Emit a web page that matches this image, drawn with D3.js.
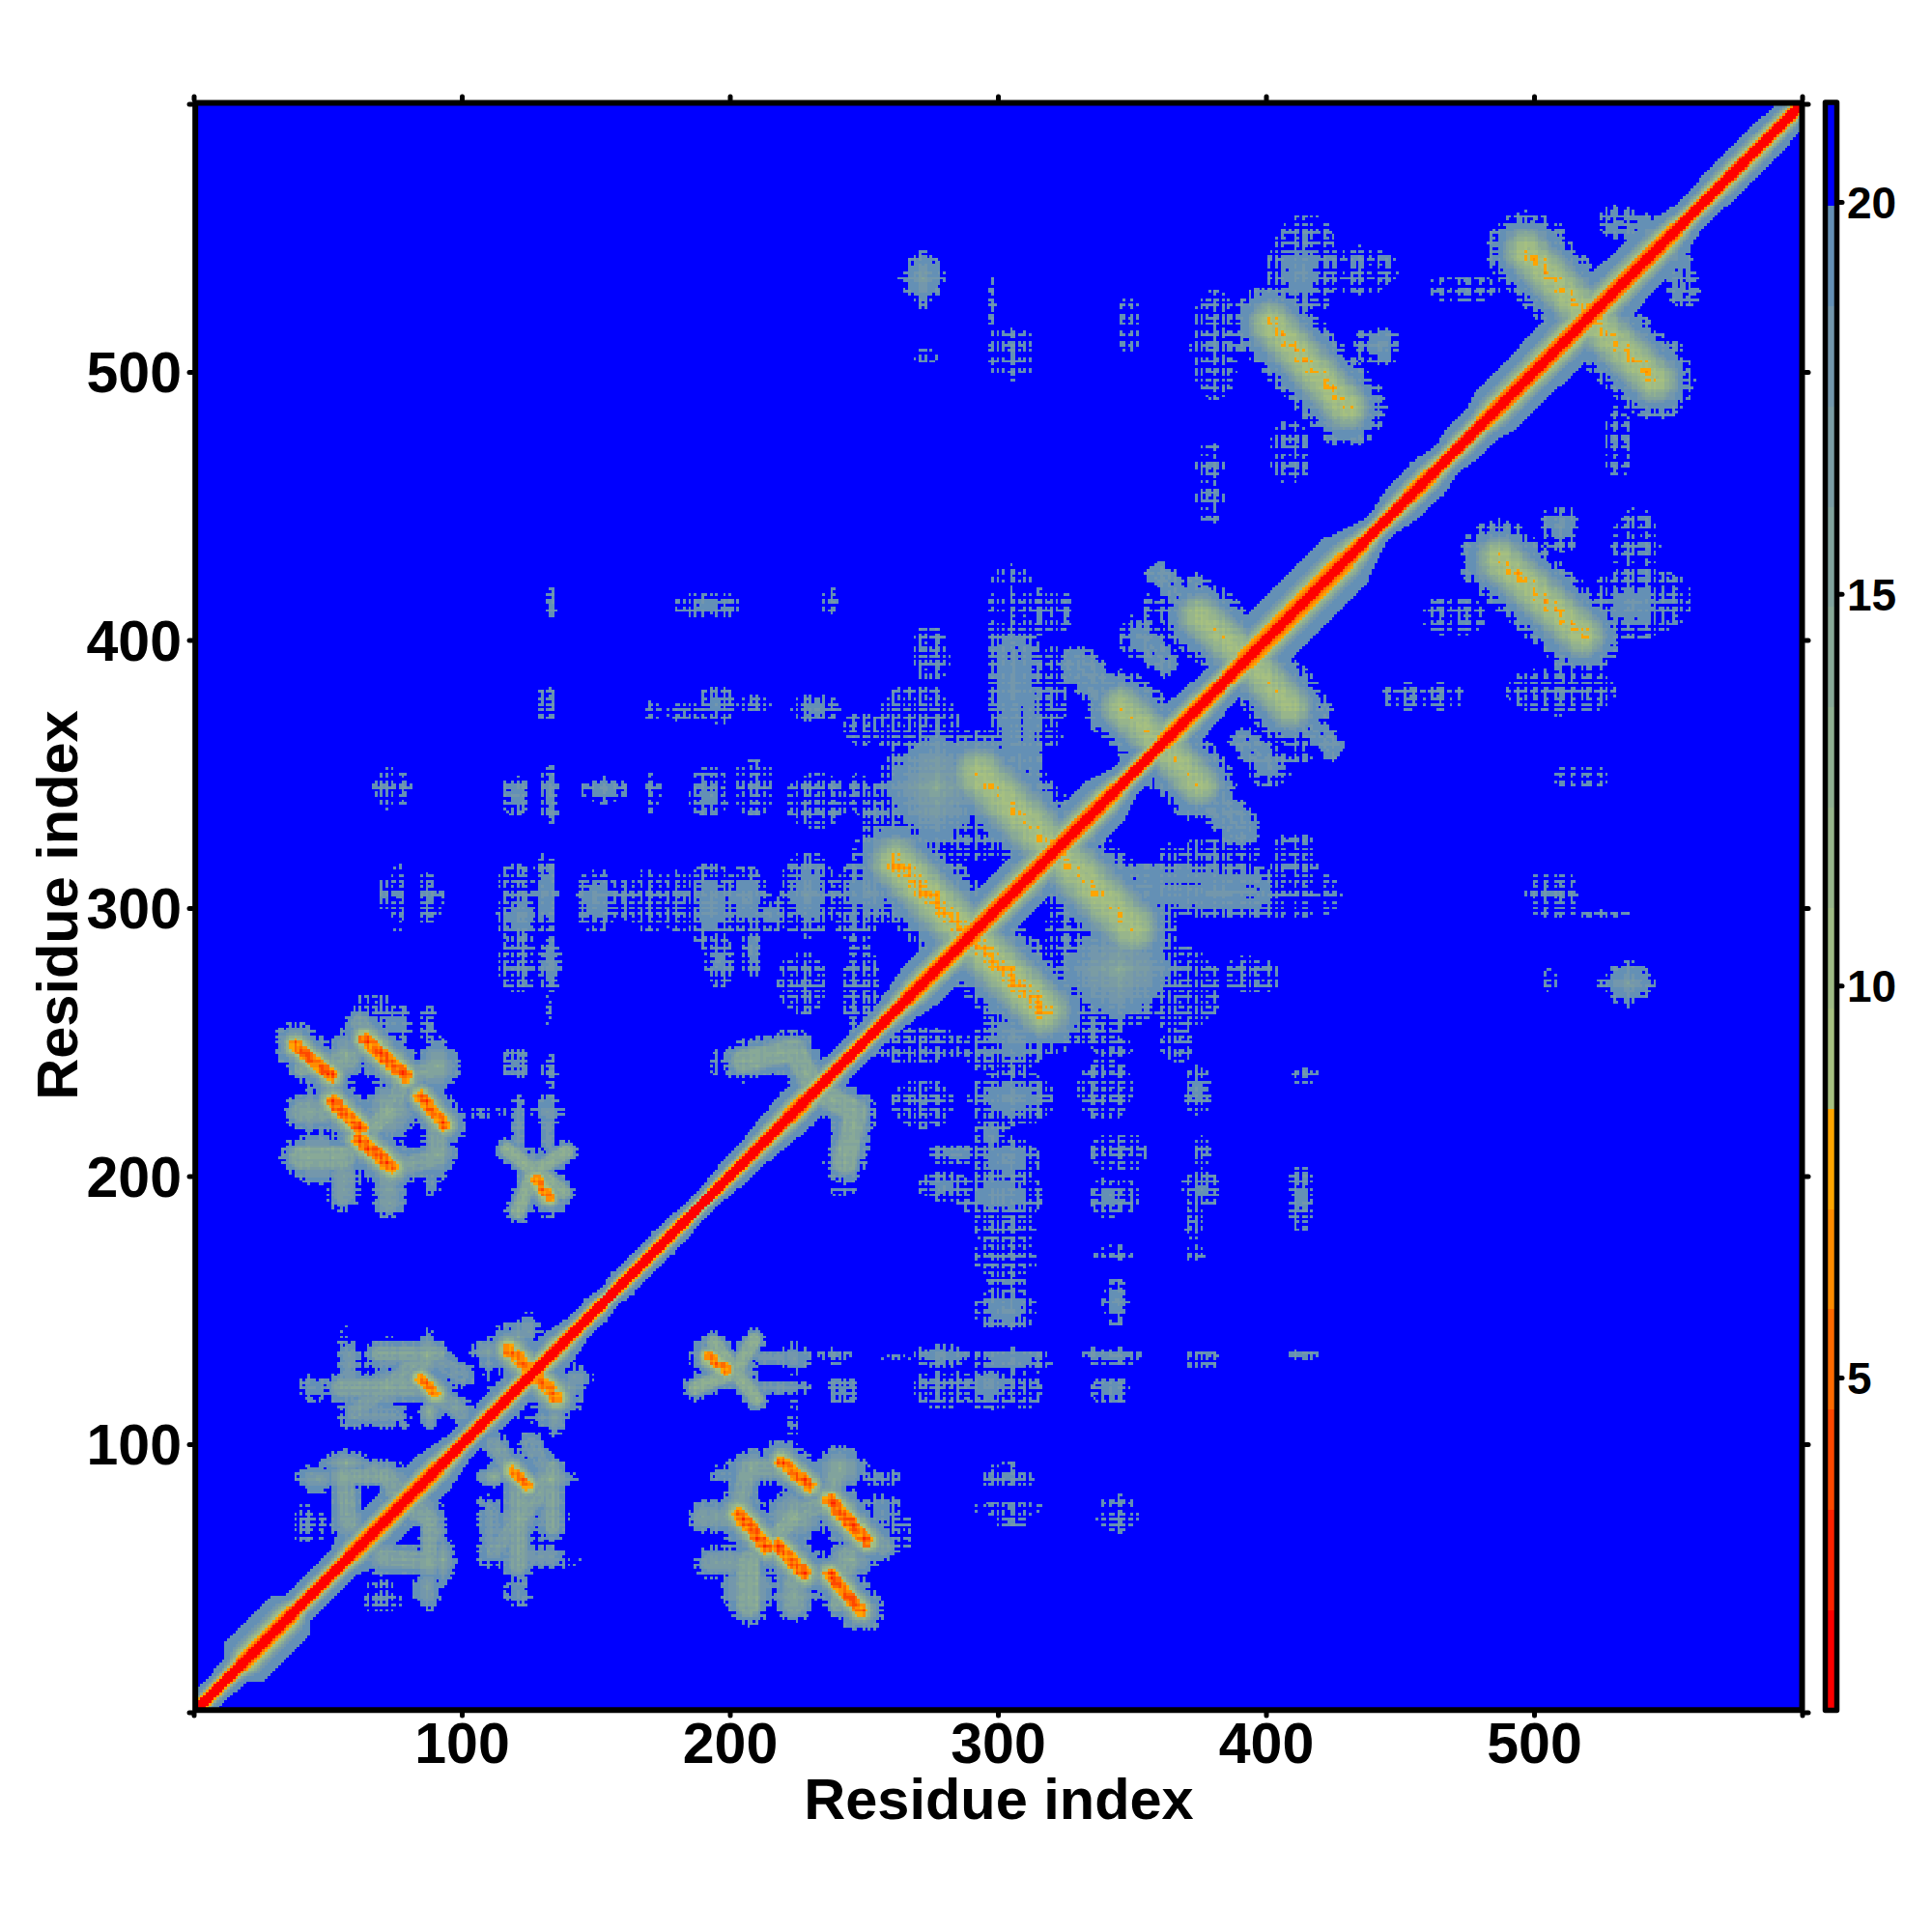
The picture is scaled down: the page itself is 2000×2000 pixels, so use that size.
<!DOCTYPE html>
<html><head><meta charset="utf-8">
<script src="https://cdn.jsdelivr.net/npm/d3@7"></script>
<style>html,body{margin:0;background:#fff}text{font-family:"Liberation Sans",Arial,sans-serif;font-weight:bold;fill:#000}</style>
</head><body><svg id="c" width="2000" height="2000"></svg>
<script>
// Colour bands of the distance scale
const bandEdges=[0.75,2.03,3.31,4.59,5.87,7.15,8.43,9.71,10.99,12.27,13.55,14.83,16.11,17.39,18.67,19.95,21.25];
const bandColors=["#ff0000","#ff2200","#ff4800","#ff6a00","#ff8c00","#ffa500","#a6c080","#9fbb85","#97b58b","#90b091","#88a997","#81a39d","#7a9ca4","#7397ac","#6490b5","#0000ff"];
const axisTicks=[0,100,200,300,400,500,600];
const labelTicks=[100,200,300,400,500];
const scaleTicks=[5,10,15,20];
const axisTitle="Residue index";
// Main diagonal: [residue, half width of the band]
const diagWidths=[[1,6],[12,7],[16,8],[19,13],[36,13],[39,8],[55,8],[60,11],[90,11],[100,7],[110,8],[125,8],[135,10],[145,6],[150,7],[155,5],[160,7],[165,6],[175,7],[190,5],[200,7],[205,7],[215,9],[225,11],[235,9],[245,7],[255,7],[262,9],[270,12],[285,13],[310,14],[340,13],[348,8],[360,9],[365,13],[385,10],[392,15],[430,15],[437,10],[442,7],[450,10],[460,11],[468,8],[472,10],[480,10],[485,13],[520,15],[548,13],[558,8],[575,10],[590,9],[600,7]];
// Antiparallel contact lines and arms: [x0,y0,x1,y1,core distance,halo width]
const strands=[[192.4,132.4,198.6,127.7,5.5,8],[219.3,93.5,229.7,84.5,5,9],[237.3,79,251,64,4.8,10],[203.4,74,213.9,61.5,4.8,10],[217.8,62,227.6,52,4.8,10],[237.3,51.4,248.8,38,4.8,9],[117.5,135.4,124.8,128.2,6,10],[118.7,90.4,124.8,84.4,6,8],[375,409,392,394,9.5,14],[346,375,361,361,9.5,14],[293,350,318,325,9,17],[262,317,289,290,8,17],[497,545,520,521,8.5,15],[402,518,430,487,8.5,15]];
const arms=[[207,91,203,75,15,6],[208,91,225,91,15,6],[240,90,237,79,15,6],[190,73,205,73,16,6],[193,56,205,56,16,6],[207,56,207,40,14,8],[224,48,224,40,15,7],[244,58,240,48,15,7],[257,62,250,68,16,6],[224,73,214,62,14,6],[224,73,237,79,15,6],[240,40,244,58,15,5],[187,121,202,127,13,5],[209,139,202,127,13,5],[194,138,202,127,13,5],[210,117,202,127,13,5],[212,132,220,132,18,2.5],[212,121,220,121,18,2.5],
[133,87,121,72,15,6],[133,87,126,100,17,5],[112,100,118,91,16,5],[121,72,112,60,16,5],[121,72,122,58,16,5],[122,58,134,58,17,4],[88,56,71,58,15,6],[88,72,88,56,15,5],[88,72,75,82,15,6],[133,87,133,73,17,5],[121,55,121,86,15,6],[134,69,134,91,15,5],[111,62,111,75,17,4],[232,232,247,224,14,8],[247,224,243,205,14,8],[350,308,395,306,18.3,10],[395,305,420,305,20.1,8],[376,345,390,330,18,8],[410,376,421,374,18,4],[392,362,398,357,18,6],[512,402,510,386,19,3.5],[375,409,360,425,18,5],[346,375,330,390,18,6],[410,376,425,360,19.5,5],[400,390,412,370,19,5],[530,556,548,552,18.5,6]];
// Patches of the map: [x,y,half width,half height,lowest distance]
const blobs=[[208,91,8,6,13],[241,91,9,7,13],[224,73,10,9,12],[195,73,5,6,15],[207,46,9,10,13],[224,44,7,7,14],[245,57,8,7,13],[197,89,4,3,18.5],[256,88,6,3,20],[257,75,6,5,18.5],[263,67,4,6,20],[193,55,5,4,18],[223,104,1.5,8,20.3],[202,127,7,6,13],[224,132,6,5,17],[224,121,5,2,18],[242,120,5,4,19],[239,133,5,2.5,20],[224,110,1.5,6,20.3],
[133,87,8,6,13],[121,72,7,9,13.5],[122,58,8,6,15],[134,57,8,2.5,19.5],[110,74,4,6,19],[131,72,5,8,18],[112,59,6,4,18],[121,45,4,5,18.5],[135,73,4,4,20.3],[88,56,8,6,13.5],[87,46,5,7,15.5],[71,58,9,6,14.5],[88,72,5,9,15],[70,43,6,5,19.8],[112,88,5,4,12],[121,140,5,5,15],[110,131,3,6,17],[142,125,6,4,16.5],[117,113,5,4,16],[135,110,4,6,15],[73,122,2,8,20.2],[74,57,9,5,15],[93,57,4,9,14],[91,67,3,7,15],[89,44,2.5,6,18],
[345,277,20,18,14.5],[320,262,12,12,18],[306,252,10,10,18],[305,229,13,8,18],[298,215,5,6,18.5],[303,206,10,7,18],[301,193,13,7,18],[303,182,9,8,19.8],[303,170,9,6,20],[303,160,6,5,19.8],[303,150,9,6,18],[280,196,8,4,18.5],[284,208,8,3,18.6],[272,227,9,7,19.8],[269,249,15,5,19.9],[295,247,6,6,19.5],[279,133,8,3.5,18],[305,131,12,4,18.3],[297,122,8,7,18.3],[279,121,8,6,19.8],[310,120,5,5,20],[262,132,4,1.5,20.2],
[340,232,8,9,20],[345,209,8,6,20],[341,192,5,6,18.5],[349,193,3,5,19.5],[343,171,6,2.5,19.9],[344,153,4,7,18.3],[343,133,9,3,18.5],[342,120,6,4,18.5],[343,248,6,3,19.8],[336,255,8,6,19.8],
[374.5,232,4,7,18.5],[376,209,3,5,19.9],[376,195,6,5,19],[373,183,3,5,19.7],[374,171,3,2.5,19.9],[376,132,5,3.5,20],[367,249,5,5,20],[413,192,4,10,19],[415,237,4,3,20.2],[414,133,5,2,19.5],[303.6,88,8,4,19.6],[304,76,10,2,19.6],[305,71,5,1.5,19.6],[344.5,74,6,6,20.1],
[368,270,12,12,20.2],[395,275,8,6,20.1],[329,292,9,8,19.9],[383,306,14,7,18.3],[411,317,7,9,20.2],[401,353,7,6,18.3],[413,362,5,6,20.2],[378,320,16,4,19.5],
[510,442,6,7,18],[537,413,14,10,18.5],[548,415,9,8,20],[538,435,7,11,20.1],[510,381,16,7,20],[470,409,9,6,20.1],[452,379,7,4,20.1],[466,379,6,4,19.9],[531,474,4,11,20.1],[552,507,3,4,20],[535,272,9,7,16.5],[507,305,8,7,20.1],[518,349,9,3,20.2],[525,298,8,1.5,20.4],[506,273,2,4,20.1],[243,205,4,5,15],[242,195,4,2,19.9]];
// Per-residue texture (digits typed by hand; low = closer), gives the row and column speckle
const residueTexture=
"172806931752084960317285094163860275193816204793152806417395"+
"360841952706183694027518936042785169340752861940372685190473"+
"815027469318520764193857204691385027416930852741960385274196"+
"047382915604837296150483729615048273960518437296051843729601"+
"528164037915280461739052846173905284601739528046137905826417"+
"293750184629375018462937501486293750148269357014862935701486"+
"604918273560491827356049182375604918237560491823756049128375"+
"781350296478135029647813502964781530296487153029648715302964"+
"139604728513960472851396047825139604782513964072851396407285"+
"450283961745028396174502839617450238961745023896174520389617";

const x=d3.scaleLinear().domain([100,500]).range([478,1588]);
const y=d3.scaleLinear().domain([100,500]).range([1495,385]);
const cb=d3.scaleLinear().domain([5,20]).range([1426,209]);
const N=600,edge=20.5,spread=1.3;
const diagW=d3.scaleLinear().domain(diagWidths.map(d=>d[0])).range(diagWidths.map(d=>d[1]));
const diagProfile=d3.scaleLinear().domain([0,.08,.2,.4,.6,1]).range([1.5,5,8,14,18.7,19.9]);
const ampOf=d3.scaleLinear().domain([5,10,18,19.3,20]).range([1.2,1,.5,.35,1.1]).clamp(true);
const bias=Array.from(residueTexture,c=>(+c-4.5)/4.5);
const grid=new Float32Array(N*N).fill(99);
const put=(i,j,v)=>{const k=j*N+i;if(v<grid[k])grid[k]=v;};
function addSeg(a,b,c,d,core,h){const prof=d3.scaleLinear().domain([0,.2,.4,.6,1]).range([core,core+1.5,Math.max(14,core+.5),Math.max(18.8,core+1),edge]);
 const x0=Math.max(0,Math.floor(Math.min(a,c)-h)),x1=Math.min(N-1,Math.ceil(Math.max(a,c)+h)),y0=Math.max(0,Math.floor(Math.min(b,d)-h)),y1=Math.min(N-1,Math.ceil(Math.max(b,d)+h));
 const dx=c-a,dy=d-b,L=dx*dx+dy*dy||1;
 for(let j=y0;j<=y1;j++)for(let i=x0;i<=x1;i++){const t=Math.max(0,Math.min(1,((i-a)*dx+(j-b)*dy)/L));const r=Math.hypot(i-a-t*dx,j-b-t*dy)/h;if(r<=1)put(i,j,prof(r));}}
function addBlob(a,b,rx0,ry0,c){const rx=rx0*spread,ry=ry0*spread,p=c>=18?2.2:1.4,cc=c>=18?c-.3:c;const x0=Math.max(0,Math.floor(a-rx)),x1=Math.min(N-1,Math.ceil(a+rx)),y0=Math.max(0,Math.floor(b-ry)),y1=Math.min(N-1,Math.ceil(b+ry));
 for(let j=y0;j<=y1;j++)for(let i=x0;i<=x1;i++){const r=Math.pow(Math.pow(Math.abs(i-a)/rx,p)+Math.pow(Math.abs(j-b)/ry,p),1/p);if(r<=1)put(i,j,cc+(edge-cc)*Math.pow(r,.7));}}
for(const s of strands.concat(arms)){addSeg(s[0],s[1],s[2],s[3],s[4],s[5]);addSeg(s[1],s[0],s[3],s[2],s[4],s[5]);}
for(const b of blobs){addBlob(b[0],b[1],b[2],b[3],b[4]);addBlob(b[1],b[0],b[3],b[2],b[4]);}
for(let j=0;j<N;j++)for(let i=0;i<N;i++){const k=j*N+i,d=grid[k];let v=d+ampOf(d)*(bias[i]+bias[j]);
 const n=Math.abs(i-j),W=diagW((i+j)/2)+1;if(n<=W){const dv=n<=2?(n<2?1.2:1.8):diagProfile((n-2)/(W-2));if(dv<v)v=dv;}grid[k]=v;}
const band=d3.scaleThreshold().domain(bandEdges.slice(1,-1)).range(d3.range(bandColors.length));
const paths=bandColors.map(()=>[]);
const f=v=>v.toFixed(1);
for(let j=1;j<N;j++){let s=1,cur=band(grid[j*N+1]);for(let i=2;i<=N;i++){const b=i<N?band(grid[j*N+i]):-1;if(b!==cur){paths[cur].push(`M${f(x(s-.5))} ${f(y(j+.5))}H${f(x(i-.5))}V${f(y(j-.5))}H${f(x(s-.5))}Z`);s=i;cur=b;}}}

const svg=d3.select("#c");
const defs=svg.append("defs");
defs.append("clipPath").attr("id","pc").append("rect").attr("x",x(1)).attr("y",y(600)).attr("width",x(599.5)-x(1)).attr("height",y(1)-y(600));
svg.append("g").attr("clip-path","url(#pc)").attr("shape-rendering","crispEdges").selectAll("path").data(bandColors).join("path").attr("fill",d=>d).attr("d",(d,i)=>paths[i].join(""));
// colour bar
svg.append("g").attr("shape-rendering","crispEdges").selectAll("rect").data(bandColors).join("rect").attr("x",1891).attr("width",10).attr("y",(d,i)=>cb(bandEdges[i+1])).attr("height",(d,i)=>cb(bandEdges[i])-cb(bandEdges[i+1])).attr("fill",d=>d);
svg.append("rect").attr("x",1889.5).attr("y",106).attr("width",12).attr("height",1664.5).attr("fill","none").attr("stroke","#000").attr("stroke-width",5.5).attr("stroke-linejoin","round");
svg.append("rect").attr("x",x(0.6)).attr("y",y(600.4)).attr("width",x(600)-x(0.6)).attr("height",y(0.85)-y(600.4)).attr("fill","none").attr("stroke","#000").attr("stroke-width",6).attr("stroke-linejoin","round");
function style(g,fs){g.select(".domain").remove();g.selectAll("line").attr("stroke","#000").attr("stroke-width",5).attr("stroke-linecap","round");g.selectAll("text").style("font-size",fs+"px").style("font-family",'"Liberation Sans",Arial,sans-serif').style("font-weight","bold").attr("fill","#000");return g;}
const lab=d=>labelTicks.includes(d)?d:"";
style(svg.append("g").attr("transform","translate(0,1773)").call(d3.axisBottom(x).tickValues(axisTicks).tickSize(3).tickFormat(lab)).call(g=>g.selectAll("text").attr("y",52).attr("dy",0)),59);
style(svg.append("g").attr("transform","translate(0,103)").call(d3.axisTop(x).tickValues(axisTicks).tickSize(3).tickFormat("")),59);
style(svg.append("g").attr("transform","translate(199,0)").call(d3.axisLeft(y).tickValues(axisTicks).tickSize(3).tickFormat(lab)).call(g=>g.selectAll("text").attr("x",-11).attr("dy","0.35em")),59);
style(svg.append("g").attr("transform","translate(1869,0)").call(d3.axisRight(y).tickValues(axisTicks).tickSize(3).tickFormat("")),59);
style(svg.append("g").attr("transform","translate(1904,0)").call(d3.axisRight(cb).tickValues(scaleTicks).tickSize(3)).call(g=>g.selectAll("text").attr("x",8).attr("dy","0.36em")),46);
svg.append("text").attr("x",1034).attr("y",1883).attr("text-anchor","middle").style("font-size","59.5px").text(axisTitle);
svg.append("text").attr("transform","translate(80,937) rotate(-90)").attr("text-anchor","middle").style("font-size","59.5px").text(axisTitle);
</script></body></html>
